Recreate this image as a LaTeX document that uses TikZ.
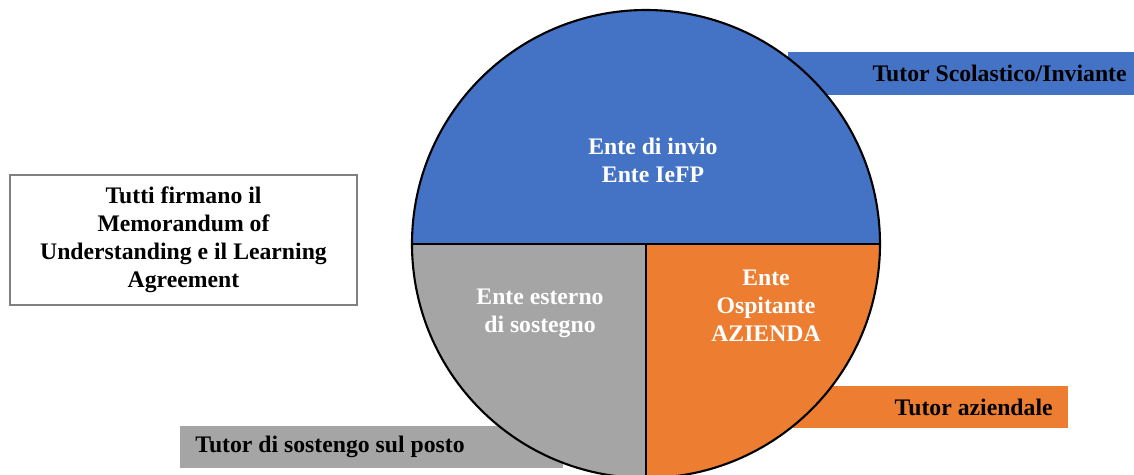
\documentclass[tikz,border=0pt]{standalone}
\usepackage{fontspec}
\setmainfont{Liberation Serif}
\usetikzlibrary{positioning}
\definecolor{invioblue}{HTML}{4472C4}
\definecolor{ospiteorange}{HTML}{ED7D31}
\definecolor{sostegnogray}{HTML}{A5A5A5}
\definecolor{boxgray}{HTML}{808080}
\begin{document}
\begin{tikzpicture}[x=0.02cm, y=0.02cm,
    every node/.style={font=\bfseries\fontsize{13.5}{15.9}\selectfont, inner sep=0pt},
    segtext/.style={text=white, align=center},
    tabtext/.style={text=black},
    notebox/.style={draw=boxgray, line width=0.8pt, minimum width=6.94cm,
      minimum height=2.6cm, align=center},
    rim/.style={draw=black, line width=1.2pt}]
  \useasboundingbox (0,0) rectangle (1134,-474);
  \clip (0,0) rectangle (1134,-474);
  % tabs, behind the circle
  \fill[invioblue] (788,-52) rectangle (1134,-95);
  \fill[ospiteorange] (780,-386) rectangle (1068,-428);
  \fill[sostegnogray] (180,-426) rectangle (563,-468);
  % the three parts of the circle
  \fill[invioblue] (412,-244) arc[start angle=180, end angle=0, radius=234] -- cycle;
  \fill[sostegnogray] (646,-244) -- (412,-244)
    arc[start angle=180, end angle=270, radius=234] -- cycle;
  \fill[ospiteorange] (646,-244) -- (646,-478)
    arc[start angle=270, end angle=360, radius=234] -- cycle;
  \draw[rim] (646,-244) circle[radius=234];
  \draw[rim] (412,-244) -- (880,-244) (646,-244) -- (646,-478);
  % texts
  \node[segtext] (invio) at (653,-160) {Ente di invio\\Ente IeFP};
  \node[segtext] (sostegno) at (540,-313) {Ente esterno\\di sostegno};
  \node[segtext] (ospitante) at (766,-306) {Ente\\Ospitante\\AZIENDA};
  \node[tabtext, anchor=east] (scolastico) at (1127,-73.5) {Tutor Scolastico/Inviante};
  \node[tabtext, anchor=east] (aziendale) at (1053,-407) {Tutor aziendale};
  \node[tabtext, anchor=west] (posto) at (195,-447) {Tutor di sostengo sul posto};
  \node[notebox] (firma) at (183.5,-240)
    {Tutti firmano il\\Memorandum of\\Understanding e il Learning\\Agreement};
\end{tikzpicture}
\end{document}
